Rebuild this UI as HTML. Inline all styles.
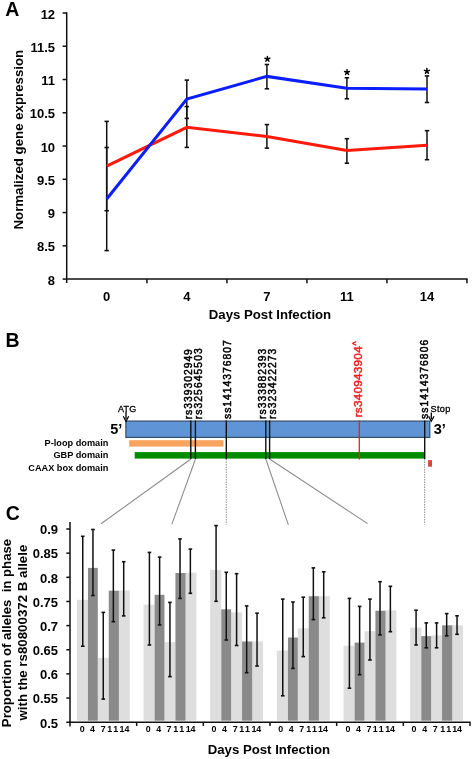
<!DOCTYPE html>
<html><head><meta charset="utf-8"><style>
html,body{margin:0;padding:0;background:#fff;overflow:hidden;width:472px;height:759px;}
svg{display:block;font-family:"Liberation Sans", sans-serif;will-change:transform;}
</style></head><body>
<svg width="472" height="759" viewBox="0 0 472 759" font-family='"Liberation Sans", sans-serif' fill="#000">
<rect width="472" height="759" fill="#fff"/>
<text x="5.2" y="15.9" font-size="19.5" font-weight="bold">A</text>
<line x1="66.7" y1="12.3" x2="66.7" y2="283" stroke="#111" stroke-width="1.5"/>
<line x1="62.6" y1="13.00" x2="66.7" y2="13.00" stroke="#111" stroke-width="1.5"/>
<text x="55.1" y="18.50" font-size="13" font-weight="bold" text-anchor="end">12</text>
<line x1="62.6" y1="46.26" x2="66.7" y2="46.26" stroke="#111" stroke-width="1.5"/>
<text x="55.1" y="51.76" font-size="13" font-weight="bold" text-anchor="end">11.5</text>
<line x1="62.6" y1="79.52" x2="66.7" y2="79.52" stroke="#111" stroke-width="1.5"/>
<text x="55.1" y="85.02" font-size="13" font-weight="bold" text-anchor="end">11</text>
<line x1="62.6" y1="112.78" x2="66.7" y2="112.78" stroke="#111" stroke-width="1.5"/>
<text x="55.1" y="118.28" font-size="13" font-weight="bold" text-anchor="end">10.5</text>
<line x1="62.6" y1="146.04" x2="66.7" y2="146.04" stroke="#111" stroke-width="1.5"/>
<text x="55.1" y="151.54" font-size="13" font-weight="bold" text-anchor="end">10</text>
<line x1="62.6" y1="179.30" x2="66.7" y2="179.30" stroke="#111" stroke-width="1.5"/>
<text x="55.1" y="184.80" font-size="13" font-weight="bold" text-anchor="end">9.5</text>
<line x1="62.6" y1="212.56" x2="66.7" y2="212.56" stroke="#111" stroke-width="1.5"/>
<text x="55.1" y="218.06" font-size="13" font-weight="bold" text-anchor="end">9</text>
<line x1="62.6" y1="245.82" x2="66.7" y2="245.82" stroke="#111" stroke-width="1.5"/>
<text x="55.1" y="251.32" font-size="13" font-weight="bold" text-anchor="end">8.5</text>
<line x1="62.6" y1="279.08" x2="66.7" y2="279.08" stroke="#111" stroke-width="1.5"/>
<text x="55.1" y="284.58" font-size="13" font-weight="bold" text-anchor="end">8</text>
<line x1="66.0" y1="279.1" x2="467.6" y2="279.1" stroke="#111" stroke-width="1.5"/>
<line x1="146.9" y1="279.1" x2="146.9" y2="283.2" stroke="#111" stroke-width="1.5"/>
<line x1="226.9" y1="279.1" x2="226.9" y2="283.2" stroke="#111" stroke-width="1.5"/>
<line x1="306.9" y1="279.1" x2="306.9" y2="283.2" stroke="#111" stroke-width="1.5"/>
<line x1="386.9" y1="279.1" x2="386.9" y2="283.2" stroke="#111" stroke-width="1.5"/>
<line x1="466.9" y1="279.1" x2="466.9" y2="283.2" stroke="#111" stroke-width="1.5"/>
<text x="106.7" y="301.4" font-size="13" font-weight="bold" text-anchor="middle">0</text>
<text x="186.8" y="301.4" font-size="13" font-weight="bold" text-anchor="middle">4</text>
<text x="266.9" y="301.4" font-size="13" font-weight="bold" text-anchor="middle">7</text>
<text x="346.9" y="301.4" font-size="13" font-weight="bold" text-anchor="middle">11</text>
<text x="427.0" y="301.4" font-size="13" font-weight="bold" text-anchor="middle">14</text>
<text x="270" y="318.9" font-size="13.2" font-weight="bold" text-anchor="middle">Days Post Infection</text>
<text transform="translate(23.3,139.7) rotate(-90)" font-size="13.25" font-weight="bold" text-anchor="middle">Normalized gene expression</text>
<line x1="106.7" y1="121.4" x2="106.7" y2="210.7" stroke="#111" stroke-width="1.5"/><line x1="104.5" y1="121.4" x2="108.9" y2="121.4" stroke="#111" stroke-width="1.6"/><line x1="104.5" y1="210.7" x2="108.9" y2="210.7" stroke="#111" stroke-width="1.6"/>
<line x1="186.8" y1="106.6" x2="186.8" y2="147.4" stroke="#111" stroke-width="1.5"/><line x1="184.60000000000002" y1="106.6" x2="189.0" y2="106.6" stroke="#111" stroke-width="1.6"/><line x1="184.60000000000002" y1="147.4" x2="189.0" y2="147.4" stroke="#111" stroke-width="1.6"/>
<line x1="266.9" y1="124.6" x2="266.9" y2="148.1" stroke="#111" stroke-width="1.5"/><line x1="264.7" y1="124.6" x2="269.09999999999997" y2="124.6" stroke="#111" stroke-width="1.6"/><line x1="264.7" y1="148.1" x2="269.09999999999997" y2="148.1" stroke="#111" stroke-width="1.6"/>
<line x1="346.9" y1="138.7" x2="346.9" y2="163.2" stroke="#111" stroke-width="1.5"/><line x1="344.7" y1="138.7" x2="349.09999999999997" y2="138.7" stroke="#111" stroke-width="1.6"/><line x1="344.7" y1="163.2" x2="349.09999999999997" y2="163.2" stroke="#111" stroke-width="1.6"/>
<line x1="427.0" y1="130.7" x2="427.0" y2="159.7" stroke="#111" stroke-width="1.5"/><line x1="424.8" y1="130.7" x2="429.2" y2="130.7" stroke="#111" stroke-width="1.6"/><line x1="424.8" y1="159.7" x2="429.2" y2="159.7" stroke="#111" stroke-width="1.6"/>
<line x1="106.7" y1="147.5" x2="106.7" y2="250.6" stroke="#111" stroke-width="1.5"/><line x1="104.5" y1="147.5" x2="108.9" y2="147.5" stroke="#111" stroke-width="1.6"/><line x1="104.5" y1="250.6" x2="108.9" y2="250.6" stroke="#111" stroke-width="1.6"/>
<line x1="186.8" y1="80.1" x2="186.8" y2="118.4" stroke="#111" stroke-width="1.5"/><line x1="184.60000000000002" y1="80.1" x2="189.0" y2="80.1" stroke="#111" stroke-width="1.6"/><line x1="184.60000000000002" y1="118.4" x2="189.0" y2="118.4" stroke="#111" stroke-width="1.6"/>
<line x1="266.9" y1="64.5" x2="266.9" y2="88.8" stroke="#111" stroke-width="1.5"/><line x1="264.7" y1="64.5" x2="269.09999999999997" y2="64.5" stroke="#111" stroke-width="1.6"/><line x1="264.7" y1="88.8" x2="269.09999999999997" y2="88.8" stroke="#111" stroke-width="1.6"/>
<line x1="346.9" y1="77.8" x2="346.9" y2="98.8" stroke="#111" stroke-width="1.5"/><line x1="344.7" y1="77.8" x2="349.09999999999997" y2="77.8" stroke="#111" stroke-width="1.6"/><line x1="344.7" y1="98.8" x2="349.09999999999997" y2="98.8" stroke="#111" stroke-width="1.6"/>
<line x1="427.0" y1="75.9" x2="427.0" y2="102.5" stroke="#111" stroke-width="1.5"/><line x1="424.8" y1="75.9" x2="429.2" y2="75.9" stroke="#111" stroke-width="1.6"/><line x1="424.8" y1="102.5" x2="429.2" y2="102.5" stroke="#111" stroke-width="1.6"/>
<polyline points="106.7,166.2 186.8,127.3 266.9,136.5 346.9,150.6 427.0,145.2" fill="none" stroke="#ff1a0a" stroke-width="3" stroke-linejoin="miter"/>
<polyline points="106.7,199 186.8,99.1 266.9,76.4 346.9,88.3 427.0,89.0" fill="none" stroke="#0a1eff" stroke-width="3" stroke-linejoin="miter"/>
<path d="M267.40,59.00 L267.40,56.40 M267.40,59.00 L269.85,58.20 M267.40,59.00 L268.90,61.10 M267.40,59.00 L265.90,61.10 M267.40,59.00 L264.95,58.20" stroke="#000" stroke-width="1.5" stroke-linecap="round" fill="none"/>
<path d="M347.05,72.30 L347.05,69.70 M347.05,72.30 L349.50,71.50 M347.05,72.30 L348.55,74.40 M347.05,72.30 L345.55,74.40 M347.05,72.30 L344.60,71.50" stroke="#000" stroke-width="1.5" stroke-linecap="round" fill="none"/>
<path d="M426.90,71.15 L426.90,68.55 M426.90,71.15 L429.35,70.35 M426.90,71.15 L428.40,73.25 M426.90,71.15 L425.40,73.25 M426.90,71.15 L424.45,70.35" stroke="#000" stroke-width="1.5" stroke-linecap="round" fill="none"/>
<text x="5.6" y="347.4" font-size="19.5" font-weight="bold">B</text>
<rect x="125.9" y="421.1" width="303.9" height="16.3" fill="#5f95d6" stroke="#34506f" stroke-width="1.25"/>
<rect x="129.1" y="440.2" width="94.4" height="6.4" fill="#f9a45e"/>
<rect x="134.7" y="452.1" width="290.2" height="6.5" fill="#008c00"/>
<rect x="428.1" y="460.1" width="3.9" height="6.6" fill="#d9463a"/>
<line x1="190.6" y1="459.3" x2="101" y2="523.8" stroke="#8a8a8a" stroke-width="1.05"/>
<line x1="195.4" y1="459.3" x2="171.8" y2="524.4" stroke="#8a8a8a" stroke-width="1.05"/>
<line x1="265.8" y1="459" x2="288.4" y2="524.9" stroke="#8a8a8a" stroke-width="1.05"/>
<line x1="269.6" y1="459" x2="367.6" y2="523.6" stroke="#8a8a8a" stroke-width="1.05"/>
<line x1="226.3" y1="459" x2="226.3" y2="524.5" stroke="#888" stroke-width="0.9" stroke-dasharray="1.5,1"/>
<line x1="424.6" y1="459" x2="424.6" y2="524.5" stroke="#888" stroke-width="0.9" stroke-dasharray="1.5,1"/>
<line x1="190.8" y1="420.5" x2="190.8" y2="459" stroke="#111" stroke-width="1.4"/>
<line x1="195.4" y1="420.5" x2="195.4" y2="459" stroke="#111" stroke-width="1.4"/>
<line x1="226.3" y1="420.5" x2="226.3" y2="459" stroke="#111" stroke-width="1.4"/>
<line x1="265.8" y1="420.5" x2="265.8" y2="459" stroke="#111" stroke-width="1.4"/>
<line x1="269.6" y1="420.5" x2="269.6" y2="459" stroke="#111" stroke-width="1.4"/>
<line x1="424.7" y1="420.5" x2="424.7" y2="459" stroke="#111" stroke-width="1.4"/>
<line x1="359.3" y1="420.5" x2="359.3" y2="459.5" stroke="#f01e1e" stroke-width="1.3"/>
<text transform="translate(191.5,419.32) rotate(-90)" font-size="10.3" stroke="#000" stroke-width="0.5" textLength="70.17" lengthAdjust="spacing">rs339302949</text>
<text transform="translate(202.0,419.32) rotate(-90)" font-size="10.3" stroke="#000" stroke-width="0.5" textLength="71.07" lengthAdjust="spacing">rs325645503</text>
<text transform="translate(230.7,418.91) rotate(-90)" font-size="10.3" stroke="#000" stroke-width="0.5" textLength="78.56" lengthAdjust="spacing">ss1414376807</text>
<text transform="translate(265.7,418.92) rotate(-90)" font-size="10.3" stroke="#000" stroke-width="0.5" textLength="70.17" lengthAdjust="spacing">rs333882393</text>
<text transform="translate(275.7,418.92) rotate(-90)" font-size="10.3" stroke="#000" stroke-width="0.5" textLength="70.17" lengthAdjust="spacing">rs323422273</text>
<text transform="translate(428.0,419.01) rotate(-90)" font-size="10.3" stroke="#000" stroke-width="0.5" textLength="79.16" lengthAdjust="spacing">ss1414376806</text>
<text transform="translate(362.4,417.3) rotate(-90)" font-size="11.8" fill="#f01e1e" stroke="#f01e1e" stroke-width="0.5"><tspan textLength="71.0" lengthAdjust="spacing">rs340943904</tspan><tspan font-size="9" dy="-3.8" dx="0.6">^</tspan></text>
<text x="117.9" y="411.6" font-size="9" stroke="#000" stroke-width="0.3" textLength="18.3" lengthAdjust="spacing">ATG</text>
<line x1="126" y1="412" x2="126" y2="419" stroke="#000" stroke-width="1.3"/>
<path d="M123.3,416.3 L126,421.2 L128.7,416.3" fill="none" stroke="#000" stroke-width="1.3"/>
<text x="430.5" y="412.0" font-size="9.2" stroke="#000" stroke-width="0.3" textLength="19.9" lengthAdjust="spacing">Stop</text>
<line x1="431.3" y1="412.5" x2="431.3" y2="419" stroke="#000" stroke-width="1.3"/>
<path d="M428.6,416.3 L431.3,421.2 L434,416.3" fill="none" stroke="#000" stroke-width="1.3"/>
<text x="110.2" y="434.4" font-size="14.5" font-weight="bold">5&#8217;</text>
<text x="433.8" y="433.6" font-size="14.5" font-weight="bold">3&#8217;</text>
<text x="108.4" y="446.3" font-size="9.2" font-weight="bold" text-anchor="end">P-loop domain</text>
<text x="108.4" y="458.4" font-size="9.2" font-weight="bold" text-anchor="end">GBP domain</text>
<text x="108.4" y="470.7" font-size="9.2" font-weight="bold" text-anchor="end">CAAX box domain</text>
<text x="5.8" y="520" font-size="19.5" font-weight="bold">C</text>
<line x1="70.0" y1="522" x2="70.0" y2="726.5" stroke="#111" stroke-width="1.5"/>
<line x1="66.3" y1="529.00" x2="70.0" y2="529.00" stroke="#111" stroke-width="1.5"/>
<text x="58" y="534.30" font-size="13" font-weight="bold" text-anchor="end">0.9</text>
<line x1="66.3" y1="553.15" x2="70.0" y2="553.15" stroke="#111" stroke-width="1.5"/>
<text x="58" y="558.45" font-size="13" font-weight="bold" text-anchor="end">0.85</text>
<line x1="66.3" y1="577.30" x2="70.0" y2="577.30" stroke="#111" stroke-width="1.5"/>
<text x="58" y="582.60" font-size="13" font-weight="bold" text-anchor="end">0.8</text>
<line x1="66.3" y1="601.45" x2="70.0" y2="601.45" stroke="#111" stroke-width="1.5"/>
<text x="58" y="606.75" font-size="13" font-weight="bold" text-anchor="end">0.75</text>
<line x1="66.3" y1="625.60" x2="70.0" y2="625.60" stroke="#111" stroke-width="1.5"/>
<text x="58" y="630.90" font-size="13" font-weight="bold" text-anchor="end">0.7</text>
<line x1="66.3" y1="649.75" x2="70.0" y2="649.75" stroke="#111" stroke-width="1.5"/>
<text x="58" y="655.05" font-size="13" font-weight="bold" text-anchor="end">0.65</text>
<line x1="66.3" y1="673.90" x2="70.0" y2="673.90" stroke="#111" stroke-width="1.5"/>
<text x="58" y="679.20" font-size="13" font-weight="bold" text-anchor="end">0.6</text>
<line x1="66.3" y1="698.05" x2="70.0" y2="698.05" stroke="#111" stroke-width="1.5"/>
<text x="58" y="703.35" font-size="13" font-weight="bold" text-anchor="end">0.55</text>
<line x1="66.3" y1="722.20" x2="70.0" y2="722.20" stroke="#111" stroke-width="1.5"/>
<text x="58" y="727.50" font-size="13" font-weight="bold" text-anchor="end">0.5</text>
<rect x="76.85" y="599.8" width="11.10" height="120.90" fill="#dedede"/>
<rect x="97.80" y="657.8" width="10.95" height="62.90" fill="#dedede"/>
<rect x="118.90" y="590.4" width="10.85" height="130.30" fill="#dedede"/>
<rect x="87.95" y="567.9" width="9.85" height="152.80" fill="#8a8a8a"/>
<rect x="108.75" y="590.7" width="10.15" height="130.00" fill="#8a8a8a"/>
<rect x="143.52" y="604.6" width="11.10" height="116.10" fill="#dedede"/>
<rect x="164.47" y="642.1" width="10.95" height="78.60" fill="#dedede"/>
<rect x="185.57" y="572.7" width="10.85" height="148.00" fill="#dedede"/>
<rect x="154.62" y="594.8" width="9.85" height="125.90" fill="#8a8a8a"/>
<rect x="175.42" y="573.0" width="10.15" height="147.70" fill="#8a8a8a"/>
<rect x="210.18" y="569.8" width="11.10" height="150.90" fill="#dedede"/>
<rect x="231.13" y="612.4" width="10.95" height="108.30" fill="#dedede"/>
<rect x="252.23" y="641.4" width="10.85" height="79.30" fill="#dedede"/>
<rect x="221.28" y="609.3" width="9.85" height="111.40" fill="#8a8a8a"/>
<rect x="242.08" y="641.5" width="10.15" height="79.20" fill="#8a8a8a"/>
<rect x="276.85" y="650.5" width="11.10" height="70.20" fill="#dedede"/>
<rect x="297.80" y="628.3" width="10.95" height="92.40" fill="#dedede"/>
<rect x="318.90" y="596.2" width="10.85" height="124.50" fill="#dedede"/>
<rect x="287.95" y="637.5" width="9.85" height="83.20" fill="#8a8a8a"/>
<rect x="308.75" y="596.2" width="10.15" height="124.50" fill="#8a8a8a"/>
<rect x="343.52" y="645.7" width="11.10" height="75.00" fill="#dedede"/>
<rect x="364.47" y="631.2" width="10.95" height="89.50" fill="#dedede"/>
<rect x="385.57" y="610.4" width="10.85" height="110.30" fill="#dedede"/>
<rect x="354.62" y="642.6" width="9.85" height="78.10" fill="#8a8a8a"/>
<rect x="375.42" y="610.7" width="10.15" height="110.00" fill="#8a8a8a"/>
<rect x="410.18" y="627.5" width="11.10" height="93.20" fill="#dedede"/>
<rect x="431.13" y="635.4" width="10.95" height="85.30" fill="#dedede"/>
<rect x="452.23" y="625.3" width="10.85" height="95.40" fill="#dedede"/>
<rect x="421.28" y="636.1" width="9.85" height="84.60" fill="#8a8a8a"/>
<rect x="442.08" y="625.3" width="10.15" height="95.40" fill="#8a8a8a"/>
<line x1="82.75" y1="536.3" x2="82.75" y2="646.2" stroke="#111" stroke-width="1.5"/><line x1="80.95" y1="536.3" x2="84.55" y2="536.3" stroke="#111" stroke-width="1.6"/><line x1="80.95" y1="646.2" x2="84.55" y2="646.2" stroke="#111" stroke-width="1.6"/>
<line x1="92.95" y1="529.5" x2="92.95" y2="595.5" stroke="#111" stroke-width="1.5"/><line x1="91.15" y1="529.5" x2="94.75" y2="529.5" stroke="#111" stroke-width="1.6"/><line x1="91.15" y1="595.5" x2="94.75" y2="595.5" stroke="#111" stroke-width="1.6"/>
<line x1="103.27" y1="612.4" x2="103.27" y2="699.1" stroke="#111" stroke-width="1.5"/><line x1="101.47" y1="612.4" x2="105.07" y2="612.4" stroke="#111" stroke-width="1.6"/><line x1="101.47" y1="699.1" x2="105.07" y2="699.1" stroke="#111" stroke-width="1.6"/>
<line x1="113.35" y1="550.1" x2="113.35" y2="621.7" stroke="#111" stroke-width="1.5"/><line x1="111.55" y1="550.1" x2="115.14999999999999" y2="550.1" stroke="#111" stroke-width="1.6"/><line x1="111.55" y1="621.7" x2="115.14999999999999" y2="621.7" stroke="#111" stroke-width="1.6"/>
<line x1="123.7" y1="561.7" x2="123.7" y2="615.9" stroke="#111" stroke-width="1.5"/><line x1="121.9" y1="561.7" x2="125.5" y2="561.7" stroke="#111" stroke-width="1.6"/><line x1="121.9" y1="615.9" x2="125.5" y2="615.9" stroke="#111" stroke-width="1.6"/>
<text x="82.30" y="732.3" font-size="8.9" font-weight="bold" text-anchor="middle">0</text>
<text x="92.55" y="732.3" font-size="8.9" font-weight="bold" text-anchor="middle">4</text>
<text x="103.25" y="732.3" font-size="8.9" font-weight="bold" text-anchor="middle">7</text>
<text x="113.55" y="732.3" font-size="8.9" font-weight="bold" text-anchor="middle" letter-spacing="1.5">11</text>
<text x="124.55" y="732.3" font-size="8.9" font-weight="bold" text-anchor="middle">14</text>
<line x1="149.42" y1="552.4" x2="149.42" y2="645.0" stroke="#111" stroke-width="1.5"/><line x1="147.61999999999998" y1="552.4" x2="151.22" y2="552.4" stroke="#111" stroke-width="1.6"/><line x1="147.61999999999998" y1="645.0" x2="151.22" y2="645.0" stroke="#111" stroke-width="1.6"/>
<line x1="159.62" y1="557.1" x2="159.62" y2="624.9" stroke="#111" stroke-width="1.5"/><line x1="157.82" y1="557.1" x2="161.42000000000002" y2="557.1" stroke="#111" stroke-width="1.6"/><line x1="157.82" y1="624.9" x2="161.42000000000002" y2="624.9" stroke="#111" stroke-width="1.6"/>
<line x1="169.94" y1="602.4" x2="169.94" y2="676.6" stroke="#111" stroke-width="1.5"/><line x1="168.14" y1="602.4" x2="171.74" y2="602.4" stroke="#111" stroke-width="1.6"/><line x1="168.14" y1="676.6" x2="171.74" y2="676.6" stroke="#111" stroke-width="1.6"/>
<line x1="180.02" y1="538.9" x2="180.02" y2="598.4" stroke="#111" stroke-width="1.5"/><line x1="178.22" y1="538.9" x2="181.82000000000002" y2="538.9" stroke="#111" stroke-width="1.6"/><line x1="178.22" y1="598.4" x2="181.82000000000002" y2="598.4" stroke="#111" stroke-width="1.6"/>
<line x1="190.37" y1="549.1" x2="190.37" y2="593.3" stroke="#111" stroke-width="1.5"/><line x1="188.57" y1="549.1" x2="192.17000000000002" y2="549.1" stroke="#111" stroke-width="1.6"/><line x1="188.57" y1="593.3" x2="192.17000000000002" y2="593.3" stroke="#111" stroke-width="1.6"/>
<text x="148.27" y="732.3" font-size="8.9" font-weight="bold" text-anchor="middle">0</text>
<text x="158.77" y="732.3" font-size="8.9" font-weight="bold" text-anchor="middle">4</text>
<text x="168.97" y="732.3" font-size="8.9" font-weight="bold" text-anchor="middle">7</text>
<text x="179.52" y="732.3" font-size="8.9" font-weight="bold" text-anchor="middle" letter-spacing="1.5">11</text>
<text x="190.57" y="732.3" font-size="8.9" font-weight="bold" text-anchor="middle">14</text>
<line x1="216.08" y1="525.6" x2="216.08" y2="601.3" stroke="#111" stroke-width="1.5"/><line x1="214.28" y1="525.6" x2="217.88000000000002" y2="525.6" stroke="#111" stroke-width="1.6"/><line x1="214.28" y1="601.3" x2="217.88000000000002" y2="601.3" stroke="#111" stroke-width="1.6"/>
<line x1="226.28" y1="572.3" x2="226.28" y2="640.0" stroke="#111" stroke-width="1.5"/><line x1="224.48" y1="572.3" x2="228.08" y2="572.3" stroke="#111" stroke-width="1.6"/><line x1="224.48" y1="640.0" x2="228.08" y2="640.0" stroke="#111" stroke-width="1.6"/>
<line x1="236.6" y1="573.7" x2="236.6" y2="645.5" stroke="#111" stroke-width="1.5"/><line x1="234.79999999999998" y1="573.7" x2="238.4" y2="573.7" stroke="#111" stroke-width="1.6"/><line x1="234.79999999999998" y1="645.5" x2="238.4" y2="645.5" stroke="#111" stroke-width="1.6"/>
<line x1="246.68" y1="605.9" x2="246.68" y2="672.7" stroke="#111" stroke-width="1.5"/><line x1="244.88" y1="605.9" x2="248.48000000000002" y2="605.9" stroke="#111" stroke-width="1.6"/><line x1="244.88" y1="672.7" x2="248.48000000000002" y2="672.7" stroke="#111" stroke-width="1.6"/>
<line x1="257.03" y1="613.2" x2="257.03" y2="666.0" stroke="#111" stroke-width="1.5"/><line x1="255.22999999999996" y1="613.2" x2="258.83" y2="613.2" stroke="#111" stroke-width="1.6"/><line x1="255.22999999999996" y1="666.0" x2="258.83" y2="666.0" stroke="#111" stroke-width="1.6"/>
<text x="214.03" y="732.3" font-size="8.9" font-weight="bold" text-anchor="middle">0</text>
<text x="224.43" y="732.3" font-size="8.9" font-weight="bold" text-anchor="middle">4</text>
<text x="235.13" y="732.3" font-size="8.9" font-weight="bold" text-anchor="middle">7</text>
<text x="245.38" y="732.3" font-size="8.9" font-weight="bold" text-anchor="middle" letter-spacing="1.5">11</text>
<text x="256.33" y="732.3" font-size="8.9" font-weight="bold" text-anchor="middle">14</text>
<line x1="282.75" y1="599.1" x2="282.75" y2="695.8" stroke="#111" stroke-width="1.5"/><line x1="280.95" y1="599.1" x2="284.55" y2="599.1" stroke="#111" stroke-width="1.6"/><line x1="280.95" y1="695.8" x2="284.55" y2="695.8" stroke="#111" stroke-width="1.6"/>
<line x1="292.95" y1="602.0" x2="292.95" y2="668.4" stroke="#111" stroke-width="1.5"/><line x1="291.15" y1="602.0" x2="294.75" y2="602.0" stroke="#111" stroke-width="1.6"/><line x1="291.15" y1="668.4" x2="294.75" y2="668.4" stroke="#111" stroke-width="1.6"/>
<line x1="303.27" y1="597.2" x2="303.27" y2="656.6" stroke="#111" stroke-width="1.5"/><line x1="301.46999999999997" y1="597.2" x2="305.07" y2="597.2" stroke="#111" stroke-width="1.6"/><line x1="301.46999999999997" y1="656.6" x2="305.07" y2="656.6" stroke="#111" stroke-width="1.6"/>
<line x1="313.35" y1="567.9" x2="313.35" y2="619.6" stroke="#111" stroke-width="1.5"/><line x1="311.55" y1="567.9" x2="315.15000000000003" y2="567.9" stroke="#111" stroke-width="1.6"/><line x1="311.55" y1="619.6" x2="315.15000000000003" y2="619.6" stroke="#111" stroke-width="1.6"/>
<line x1="323.7" y1="571.8" x2="323.7" y2="617.8" stroke="#111" stroke-width="1.5"/><line x1="321.9" y1="571.8" x2="325.5" y2="571.8" stroke="#111" stroke-width="1.6"/><line x1="321.9" y1="617.8" x2="325.5" y2="617.8" stroke="#111" stroke-width="1.6"/>
<text x="280.80" y="732.3" font-size="8.9" font-weight="bold" text-anchor="middle">0</text>
<text x="291.20" y="732.3" font-size="8.9" font-weight="bold" text-anchor="middle">4</text>
<text x="301.70" y="732.3" font-size="8.9" font-weight="bold" text-anchor="middle">7</text>
<text x="312.35" y="732.3" font-size="8.9" font-weight="bold" text-anchor="middle" letter-spacing="1.5">11</text>
<text x="322.90" y="732.3" font-size="8.9" font-weight="bold" text-anchor="middle">14</text>
<line x1="349.42" y1="598.4" x2="349.42" y2="688.2" stroke="#111" stroke-width="1.5"/><line x1="347.62" y1="598.4" x2="351.22" y2="598.4" stroke="#111" stroke-width="1.6"/><line x1="347.62" y1="688.2" x2="351.22" y2="688.2" stroke="#111" stroke-width="1.6"/>
<line x1="359.62" y1="606.4" x2="359.62" y2="674.7" stroke="#111" stroke-width="1.5"/><line x1="357.82" y1="606.4" x2="361.42" y2="606.4" stroke="#111" stroke-width="1.6"/><line x1="357.82" y1="674.7" x2="361.42" y2="674.7" stroke="#111" stroke-width="1.6"/>
<line x1="369.94" y1="599.1" x2="369.94" y2="660.0" stroke="#111" stroke-width="1.5"/><line x1="368.14" y1="599.1" x2="371.74" y2="599.1" stroke="#111" stroke-width="1.6"/><line x1="368.14" y1="660.0" x2="371.74" y2="660.0" stroke="#111" stroke-width="1.6"/>
<line x1="380.02" y1="581.7" x2="380.02" y2="634.9" stroke="#111" stroke-width="1.5"/><line x1="378.21999999999997" y1="581.7" x2="381.82" y2="581.7" stroke="#111" stroke-width="1.6"/><line x1="378.21999999999997" y1="634.9" x2="381.82" y2="634.9" stroke="#111" stroke-width="1.6"/>
<line x1="390.37" y1="586.3" x2="390.37" y2="631.7" stroke="#111" stroke-width="1.5"/><line x1="388.57" y1="586.3" x2="392.17" y2="586.3" stroke="#111" stroke-width="1.6"/><line x1="388.57" y1="631.7" x2="392.17" y2="631.7" stroke="#111" stroke-width="1.6"/>
<text x="348.07" y="732.3" font-size="8.9" font-weight="bold" text-anchor="middle">0</text>
<text x="358.57" y="732.3" font-size="8.9" font-weight="bold" text-anchor="middle">4</text>
<text x="368.97" y="732.3" font-size="8.9" font-weight="bold" text-anchor="middle">7</text>
<text x="379.02" y="732.3" font-size="8.9" font-weight="bold" text-anchor="middle" letter-spacing="1.5">11</text>
<text x="390.07" y="732.3" font-size="8.9" font-weight="bold" text-anchor="middle">14</text>
<line x1="416.08" y1="610.2" x2="416.08" y2="645.0" stroke="#111" stroke-width="1.5"/><line x1="414.28" y1="610.2" x2="417.88" y2="610.2" stroke="#111" stroke-width="1.6"/><line x1="414.28" y1="645.0" x2="417.88" y2="645.0" stroke="#111" stroke-width="1.6"/>
<line x1="426.28" y1="622.9" x2="426.28" y2="647.8" stroke="#111" stroke-width="1.5"/><line x1="424.47999999999996" y1="622.9" x2="428.08" y2="622.9" stroke="#111" stroke-width="1.6"/><line x1="424.47999999999996" y1="647.8" x2="428.08" y2="647.8" stroke="#111" stroke-width="1.6"/>
<line x1="436.6" y1="622.9" x2="436.6" y2="647.8" stroke="#111" stroke-width="1.5"/><line x1="434.8" y1="622.9" x2="438.40000000000003" y2="622.9" stroke="#111" stroke-width="1.6"/><line x1="434.8" y1="647.8" x2="438.40000000000003" y2="647.8" stroke="#111" stroke-width="1.6"/>
<line x1="446.68" y1="613.6" x2="446.68" y2="635.8" stroke="#111" stroke-width="1.5"/><line x1="444.88" y1="613.6" x2="448.48" y2="613.6" stroke="#111" stroke-width="1.6"/><line x1="444.88" y1="635.8" x2="448.48" y2="635.8" stroke="#111" stroke-width="1.6"/>
<line x1="457.03" y1="615.8" x2="457.03" y2="634.3" stroke="#111" stroke-width="1.5"/><line x1="455.22999999999996" y1="615.8" x2="458.83" y2="615.8" stroke="#111" stroke-width="1.6"/><line x1="455.22999999999996" y1="634.3" x2="458.83" y2="634.3" stroke="#111" stroke-width="1.6"/>
<text x="414.03" y="732.3" font-size="8.9" font-weight="bold" text-anchor="middle">0</text>
<text x="424.63" y="732.3" font-size="8.9" font-weight="bold" text-anchor="middle">4</text>
<text x="435.33" y="732.3" font-size="8.9" font-weight="bold" text-anchor="middle">7</text>
<text x="446.48" y="732.3" font-size="8.9" font-weight="bold" text-anchor="middle" letter-spacing="1.5">11</text>
<text x="457.13" y="732.3" font-size="8.9" font-weight="bold" text-anchor="middle">14</text>
<line x1="69.3" y1="722.2" x2="470.6" y2="722.2" stroke="#111" stroke-width="1.5"/>
<line x1="136.67" y1="722.2" x2="136.67" y2="726" stroke="#111" stroke-width="1.5"/>
<line x1="203.33" y1="722.2" x2="203.33" y2="726" stroke="#111" stroke-width="1.5"/>
<line x1="270.00" y1="722.2" x2="270.00" y2="726" stroke="#111" stroke-width="1.5"/>
<line x1="336.67" y1="722.2" x2="336.67" y2="726" stroke="#111" stroke-width="1.5"/>
<line x1="403.33" y1="722.2" x2="403.33" y2="726" stroke="#111" stroke-width="1.5"/>
<line x1="470.00" y1="722.2" x2="470.00" y2="726" stroke="#111" stroke-width="1.5"/>
<text x="268.9" y="754.1" font-size="13.2" font-weight="bold" text-anchor="middle">Days Post Infection</text>
<text transform="translate(11.0,633.0) rotate(-90)" font-size="13.2" font-weight="bold" text-anchor="middle">Proportion of alleles&#160; in phase</text>
<text transform="translate(27.1,632.6) rotate(-90)" font-size="13.3" font-weight="bold" text-anchor="middle">with the rs80800372 B allele</text>
</svg>
</body></html>
